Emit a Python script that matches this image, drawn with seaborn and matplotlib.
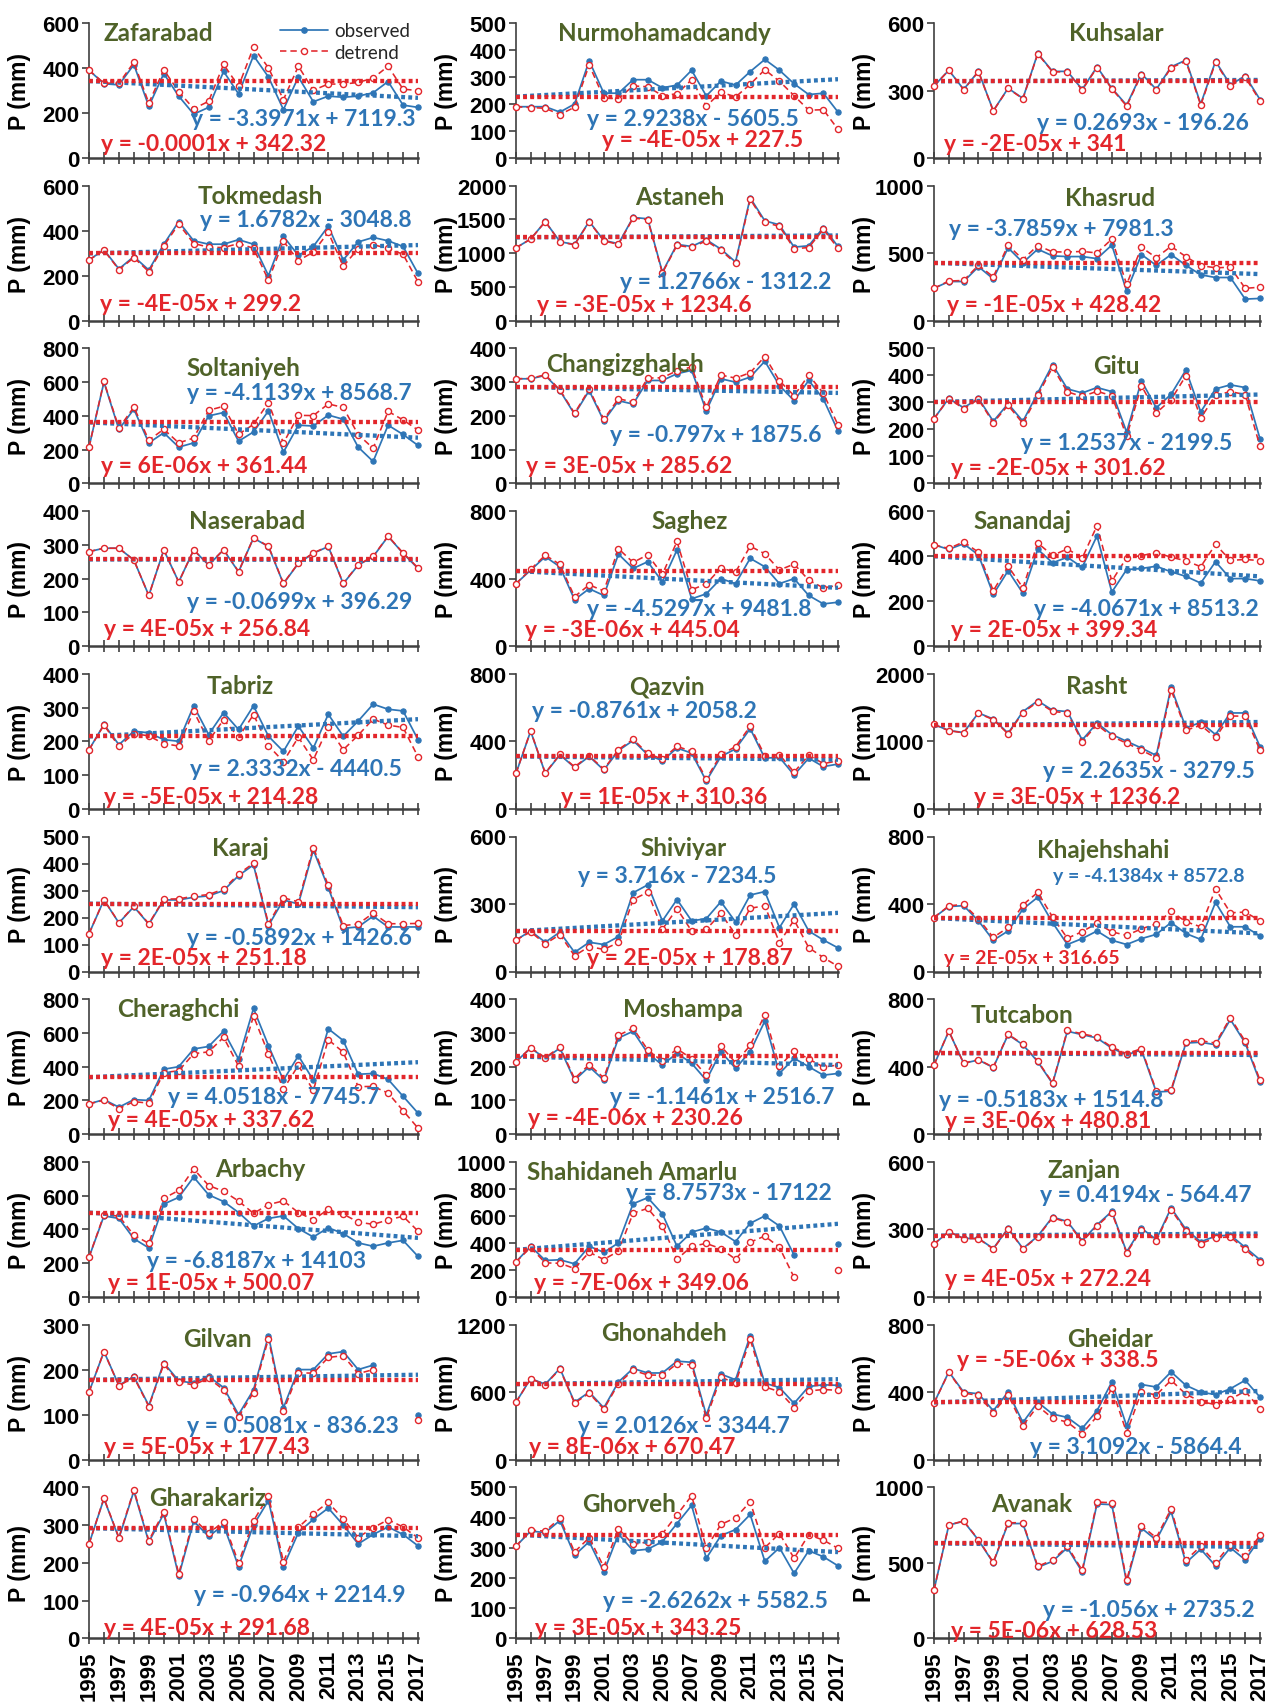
import numpy as np
import pandas as pd
import matplotlib
matplotlib.use('Agg')
import matplotlib.pyplot as plt
import seaborn as sns
from matplotlib.lines import Line2D

nan = np.nan
years = list(range(1995, 2018))

stations = ['Zafarabad', 'Nurmohamadcandy', 'Kuhsalar',
            'Tokmedash', 'Astaneh', 'Khasrud',
            'Soltaniyeh', 'Changizghaleh', 'Gitu',
            'Naserabad', 'Saghez', 'Sanandaj',
            'Tabriz', 'Qazvin', 'Rasht',
            'Karaj', 'Shiviyar', 'Khajehshahi',
            'Cheraghchi', 'Moshampa', 'Tutcabon',
            'Arbachy', 'Shahidaneh Amarlu', 'Zanjan',
            'Gilvan', 'Ghonahdeh', 'Gheidar',
            'Gharakariz', 'Ghorveh', 'Avanak']

# observed (obs) and detrended (det) precipitation, mm, 1995-2017
zafarabad_obs = [390, 330, 325, 415, 230, 375, 275, 195, 225, 385, 285, 455, 360, 215, 360, 250, 275, 270, 275, 290, 340, 235, 225]
zafarabad_det = [390, 333, 332, 425, 244, 392, 295, 219, 252, 416, 319, 492, 401, 259, 408, 301, 329, 328, 336, 355, 408, 306, 300]
nurmohamadcandy_obs = [190, 190, 190, 170, 200, 360, 240, 240, 290, 290, 260, 270, 325, 230, 285, 270, 320, 365, 325, 275, 235, 240, 170]
nurmohamadcandy_det = [190, 187, 184, 161, 188, 345, 222, 220, 267, 264, 231, 238, 290, 192, 244, 226, 273, 327, 284, 231, 177, 179, 106]
kuhsalar_obs = [320, 390, 305, 385, 210, 310, 265, 465, 385, 385, 305, 405, 310, 235, 375, 305, 405, 435, 240, 430, 325, 365, 260]
kuhsalar_det = [320, 390, 304, 384, 209, 309, 263, 463, 383, 383, 302, 402, 307, 231, 371, 301, 401, 430, 235, 425, 320, 359, 254]
tokmedash_obs = [270, 315, 230, 285, 225, 340, 440, 355, 340, 340, 360, 340, 200, 375, 290, 330, 420, 270, 350, 370, 355, 330, 210]
tokmedash_det = [270, 313, 227, 280, 218, 332, 430, 343, 327, 325, 343, 322, 180, 353, 267, 305, 393, 242, 320, 338, 321, 295, 173]
astaneh_obs = [1080, 1210, 1470, 1170, 1130, 1470, 1190, 1140, 1530, 1510, 720, 1130, 1100, 1200, 1060, 870, 1820, 1480, 1420, 1090, 1110, 1380, 1100]
astaneh_det = [1080, 1209, 1467, 1166, 1125, 1464, 1182, 1131, 1520, 1499, 707, 1116, 1085, 1183, 1042, 851, 1800, 1458, 1397, 1066, 1084, 1353, 1072]
khasrud_obs = [240, 290, 290, 400, 310, 540, 430, 530, 480, 475, 475, 460, 560, 220, 490, 410, 490, 410, 340, 320, 320, 160, 165]
khasrud_det = [240, 294, 298, 411, 325, 559, 453, 557, 510, 509, 513, 502, 605, 269, 543, 467, 551, 474, 408, 392, 396, 240, 248]
soltaniyeh_obs = [215, 600, 320, 440, 240, 300, 215, 240, 400, 420, 250, 305, 430, 185, 345, 340, 405, 380, 215, 130, 345, 290, 225]
soltaniyeh_det = [215, 604, 328, 452, 256, 321, 240, 269, 433, 457, 291, 350, 479, 239, 403, 402, 471, 450, 289, 208, 427, 376, 316]
changizghaleh_obs = [310, 310, 320, 275, 205, 275, 185, 245, 235, 305, 305, 325, 335, 215, 310, 300, 315, 362, 290, 245, 305, 250, 155]
changizghaleh_det = [310, 311, 322, 277, 208, 279, 190, 251, 241, 312, 313, 334, 345, 225, 321, 312, 328, 376, 304, 260, 321, 267, 173]
gitu_obs = [240, 315, 280, 315, 230, 295, 230, 335, 440, 350, 335, 355, 340, 190, 380, 280, 330, 420, 265, 350, 365, 355, 165]
gitu_det = [240, 314, 277, 311, 225, 289, 222, 326, 430, 339, 322, 341, 325, 174, 362, 261, 310, 399, 242, 326, 340, 329, 137]
naserabad_obs = [280, 290, 290, 255, 150, 285, 190, 285, 240, 285, 220, 320, 295, 185, 245, 275, 295, 185, 240, 265, 325, 275, 230]
naserabad_det = [280, 290, 290, 255, 150, 285, 190, 285, 241, 286, 221, 321, 296, 186, 246, 276, 296, 186, 241, 266, 326, 276, 232]
saghez_obs = [370, 450, 530, 470, 275, 340, 300, 545, 460, 500, 380, 570, 280, 310, 400, 370, 520, 470, 370, 400, 300, 250, 260]
saghez_det = [370, 455, 539, 484, 293, 363, 327, 577, 496, 541, 425, 620, 334, 369, 463, 438, 592, 547, 451, 486, 391, 345, 360]
sanandaj_obs = [450, 430, 455, 405, 230, 335, 235, 430, 370, 395, 350, 490, 240, 340, 345, 355, 330, 310, 280, 375, 300, 300, 290]
sanandaj_det = [450, 434, 463, 417, 246, 355, 259, 458, 403, 432, 391, 535, 289, 393, 402, 416, 395, 379, 353, 452, 381, 385, 380]
tabriz_obs = [175, 250, 190, 230, 225, 205, 200, 305, 220, 285, 235, 305, 215, 170, 245, 180, 280, 215, 260, 310, 295, 290, 205]
tabriz_det = [175, 248, 185, 223, 216, 193, 186, 289, 201, 264, 212, 279, 187, 140, 212, 145, 243, 175, 218, 266, 248, 241, 154]
qazvin_obs = [210, 460, 210, 320, 245, 310, 230, 345, 405, 320, 285, 360, 330, 165, 310, 355, 475, 300, 305, 200, 300, 250, 265]
qazvin_det = [210, 461, 212, 323, 249, 314, 235, 351, 412, 328, 294, 370, 341, 176, 322, 368, 489, 315, 321, 217, 318, 268, 284]
rasht_obs = [1250, 1160, 1130, 1420, 1330, 1120, 1440, 1600, 1460, 1440, 1020, 1270, 1100, 1000, 900, 790, 1800, 1200, 1280, 1100, 1420, 1420, 920]
rasht_det = [1250, 1158, 1125, 1413, 1321, 1109, 1426, 1584, 1442, 1420, 997, 1245, 1073, 971, 868, 756, 1764, 1162, 1239, 1057, 1375, 1372, 870]
karaj_obs = [140, 265, 180, 240, 175, 265, 265, 275, 280, 300, 355, 395, 170, 265, 250, 450, 310, 160, 165, 205, 165, 165, 165]
karaj_det = [140, 266, 181, 242, 177, 268, 269, 279, 285, 305, 361, 401, 177, 273, 258, 459, 319, 170, 176, 216, 177, 177, 178]
shiviyar_obs = [140, 180, 130, 175, 85, 130, 120, 155, 350, 385, 225, 320, 225, 235, 310, 220, 340, 355, 195, 300, 180, 140, 105]
shiviyar_det = [140, 176, 123, 164, 70, 111, 98, 129, 320, 352, 188, 279, 180, 187, 258, 164, 281, 292, 128, 229, 106, 62, 23]
khajehshahi_obs = [320, 385, 390, 300, 185, 240, 370, 440, 290, 160, 195, 240, 185, 160, 195, 220, 290, 225, 190, 410, 265, 265, 210]
khajehshahi_det = [320, 389, 398, 312, 202, 261, 395, 469, 323, 197, 236, 286, 235, 214, 253, 282, 356, 295, 265, 489, 348, 352, 301]
cheraghchi_obs = [180, 205, 160, 205, 200, 385, 400, 505, 520, 610, 445, 745, 525, 320, 465, 320, 625, 555, 355, 360, 325, 225, 125]
cheraghchi_det = [180, 201, 152, 193, 184, 365, 376, 477, 488, 574, 404, 700, 476, 267, 408, 259, 560, 486, 282, 283, 244, 140, 36]
moshampa_obs = [215, 255, 225, 255, 160, 200, 160, 285, 305, 240, 205, 240, 210, 160, 245, 195, 245, 335, 180, 225, 200, 175, 180]
moshampa_det = [215, 256, 227, 258, 165, 206, 167, 293, 314, 250, 216, 253, 224, 175, 261, 212, 263, 354, 201, 247, 223, 199, 205]
tutcabon_obs = [410, 610, 420, 440, 395, 590, 530, 430, 300, 610, 590, 570, 510, 470, 500, 250, 255, 540, 545, 530, 680, 540, 310]
tutcabon_det = [410, 611, 421, 442, 397, 593, 533, 434, 304, 615, 595, 576, 516, 477, 507, 258, 263, 549, 554, 540, 690, 551, 321]
arbachy_obs = [235, 480, 465, 345, 290, 550, 590, 710, 605, 565, 500, 420, 465, 480, 405, 355, 410, 375, 320, 300, 320, 335, 240]
arbachy_det = [235, 487, 479, 366, 317, 584, 631, 758, 660, 626, 568, 495, 547, 569, 500, 457, 519, 491, 443, 430, 456, 478, 390]
shahidaneh_obs = [260, 375, 270, 275, 245, 375, 330, 400, 690, 735, 615, 375, 480, 510, 480, 410, 545, 600, 525, 310, nan, nan, 390]
shahidaneh_det = [260, 366, 252, 249, 210, 331, 277, 339, 620, 656, 527, 279, 375, 396, 357, 279, 405, 451, 367, 144, nan, nan, 197]
zanjan_obs = [235, 290, 260, 260, 215, 305, 215, 270, 355, 335, 250, 320, 380, 200, 305, 255, 395, 300, 245, 270, 275, 220, 165]
zanjan_det = [235, 290, 259, 259, 213, 303, 213, 267, 352, 331, 246, 315, 375, 195, 299, 249, 388, 293, 237, 262, 267, 211, 156]
gilvan_obs = [150, 240, 165, 185, 120, 215, 175, 170, 185, 160, 100, 155, 275, 115, 200, 200, 235, 240, 200, 210, nan, nan, 100]
gilvan_det = [150, 240, 164, 183, 118, 212, 172, 166, 181, 155, 95, 149, 269, 108, 193, 192, 227, 231, 191, 200, nan, nan, 89]
ghonahdeh_obs = [510, 720, 670, 810, 510, 600, 460, 690, 810, 770, 770, 875, 865, 395, 760, 710, 1100, 680, 640, 500, 650, 665, 660]
ghonahdeh_det = [510, 718, 666, 804, 502, 590, 448, 676, 794, 752, 750, 853, 841, 369, 732, 680, 1068, 646, 604, 462, 610, 623, 616]
gheidar_obs = [335, 520, 400, 390, 290, 400, 220, 340, 270, 250, 185, 290, 460, 200, 445, 430, 520, 440, 400, 385, 420, 470, 370]
gheidar_det = [335, 517, 394, 381, 278, 384, 201, 318, 245, 222, 154, 256, 423, 160, 401, 383, 470, 387, 344, 326, 358, 405, 302]
gharakariz_obs = [250, 370, 265, 390, 255, 330, 165, 310, 270, 300, 190, 300, 365, 190, 280, 315, 345, 300, 250, 275, 295, 275, 245]
gharakariz_det = [250, 371, 267, 393, 259, 335, 171, 317, 278, 309, 200, 311, 377, 203, 294, 330, 360, 316, 267, 293, 314, 295, 266]
ghorveh_obs = [305, 355, 350, 390, 275, 320, 220, 345, 290, 295, 320, 380, 440, 265, 340, 360, 410, 255, 300, 215, 290, 270, 240]
ghorveh_det = [305, 358, 355, 398, 286, 333, 236, 363, 311, 319, 346, 409, 472, 299, 377, 399, 452, 300, 347, 265, 343, 325, 298]
avanak_obs = [320, 750, 775, 650, 500, 760, 760, 470, 510, 600, 440, 890, 885, 370, 730, 650, 840, 500, 590, 480, 600, 520, 660]
avanak_det = [320, 751, 777, 653, 504, 765, 766, 477, 518, 610, 451, 902, 898, 384, 745, 666, 857, 518, 609, 500, 621, 542, 683]

obs_series = [zafarabad_obs, nurmohamadcandy_obs, kuhsalar_obs, tokmedash_obs, astaneh_obs, khasrud_obs,
              soltaniyeh_obs, changizghaleh_obs, gitu_obs, naserabad_obs, saghez_obs, sanandaj_obs,
              tabriz_obs, qazvin_obs, rasht_obs, karaj_obs, shiviyar_obs, khajehshahi_obs,
              cheraghchi_obs, moshampa_obs, tutcabon_obs, arbachy_obs, shahidaneh_obs, zanjan_obs,
              gilvan_obs, ghonahdeh_obs, gheidar_obs, gharakariz_obs, ghorveh_obs, avanak_obs]
det_series = [zafarabad_det, nurmohamadcandy_det, kuhsalar_det, tokmedash_det, astaneh_det, khasrud_det,
              soltaniyeh_det, changizghaleh_det, gitu_det, naserabad_det, saghez_det, sanandaj_det,
              tabriz_det, qazvin_det, rasht_det, karaj_det, shiviyar_det, khajehshahi_det,
              cheraghchi_det, moshampa_det, tutcabon_det, arbachy_det, shahidaneh_det, zanjan_det,
              gilvan_det, ghonahdeh_det, gheidar_det, gharakariz_det, ghorveh_det, avanak_det]

# linear trend of observed series and level of detrended series
blue_slope = [-3.3971, 2.9238, 0.2693, 1.6782, 1.2766, -3.7859, -4.1139, -0.797, 1.2537, -0.0699,
              -4.5297, -4.0671, 2.3332, -0.8761, 2.2635, -0.5892, 3.716, -4.1384, 4.0518, -1.1461,
              -0.5183, -6.8187, 8.7573, 0.4194, 0.5081, 2.0126, 3.1092, -0.964, -2.6262, -1.056]
blue_icpt = [7119.3, -5605.5, -196.26, -3048.8, -1312.2, 7981.3, 8568.7, 1875.6, -2199.5, 396.29,
             9481.8, 8513.2, -4440.5, 2058.2, -3279.5, 1426.6, -7234.5, 8572.8, -7745.7, 2516.7,
             1514.8, 14103, -17122, -564.47, -836.23, -3344.7, -5864.4, 2214.9, 5582.5, 2735.2]
red_level = [342.32, 227.5, 341, 299.2, 1234.6, 428.42, 361.44, 285.62, 301.62, 256.84,
             445.04, 399.34, 214.28, 310.36, 1236.2, 251.18, 178.87, 316.65, 337.62, 230.26,
             480.81, 500.07, 349.06, 272.24, 177.43, 670.47, 338.5, 291.68, 343.25, 628.53]
blue_eq = ['y = -3.3971x + 7119.3', 'y = 2.9238x - 5605.5', 'y = 0.2693x - 196.26',
           'y = 1.6782x - 3048.8', 'y = 1.2766x - 1312.2', 'y = -3.7859x + 7981.3',
           'y = -4.1139x + 8568.7', 'y = -0.797x + 1875.6', 'y = 1.2537x - 2199.5',
           'y = -0.0699x + 396.29', 'y = -4.5297x + 9481.8', 'y = -4.0671x + 8513.2',
           'y = 2.3332x - 4440.5', 'y = -0.8761x + 2058.2', 'y = 2.2635x - 3279.5',
           'y = -0.5892x + 1426.6', 'y = 3.716x - 7234.5', 'y = -4.1384x + 8572.8',
           'y = 4.0518x - 7745.7', 'y = -1.1461x + 2516.7', 'y = -0.5183x + 1514.8',
           'y = -6.8187x + 14103', 'y = 8.7573x - 17122', 'y = 0.4194x - 564.47',
           'y = 0.5081x - 836.23', 'y = 2.0126x - 3344.7', 'y = 3.1092x - 5864.4',
           'y = -0.964x + 2214.9', 'y = -2.6262x + 5582.5', 'y = -1.056x + 2735.2']
red_eq = ['y = -0.0001x + 342.32', 'y = -4E-05x + 227.5', 'y = -2E-05x + 341',
          'y = -4E-05x + 299.2', 'y = -3E-05x + 1234.6', 'y = -1E-05x + 428.42',
          'y = 6E-06x + 361.44', 'y = 3E-05x + 285.62', 'y = -2E-05x + 301.62',
          'y = 4E-05x + 256.84', 'y = -3E-06x + 445.04', 'y = 2E-05x + 399.34',
          'y = -5E-05x + 214.28', 'y = 1E-05x + 310.36', 'y = 3E-05x + 1236.2',
          'y = 2E-05x + 251.18', 'y = 2E-05x + 178.87', 'y = 2E-05x + 316.65',
          'y = 4E-05x + 337.62', 'y = -4E-06x + 230.26', 'y = 3E-06x + 480.81',
          'y = 1E-05x + 500.07', 'y = -7E-06x + 349.06', 'y = 4E-05x + 272.24',
          'y = 5E-05x + 177.43', 'y = 8E-06x + 670.47', 'y = -5E-06x + 338.5',
          'y = 4E-05x + 291.68', 'y = 3E-05x + 343.25', 'y = 5E-06x + 628.53']
y_max = [600, 500, 600, 600, 2000, 1000, 800, 400, 500, 400, 800, 600, 400, 800, 2000,
         500, 600, 800, 800, 400, 800, 800, 1000, 600, 300, 1200, 800, 400, 500, 1000]
y_step = [200, 100, 300, 200, 500, 500, 200, 100, 100, 100, 400, 200, 100, 400, 1000,
          100, 300, 400, 200, 100, 400, 200, 200, 300, 100, 600, 400, 100, 100, 500]

# text placement (axes fraction, centre of text)
title_pos = [(0.21, 0.93), (0.46, 0.93), (0.56, 0.93), (0.52, 0.93), (0.51, 0.92), (0.54, 0.91),
             (0.47, 0.86), (0.34, 0.89), (0.56, 0.87), (0.48, 0.93), (0.54, 0.93), (0.27, 0.93),
             (0.46, 0.91), (0.47, 0.91), (0.50, 0.91), (0.46, 0.92), (0.52, 0.92), (0.52, 0.90),
             (0.27, 0.93), (0.52, 0.93), (0.27, 0.89), (0.52, 0.95), (0.36, 0.93), (0.46, 0.94),
             (0.39, 0.90), (0.46, 0.94), (0.54, 0.90), (0.36, 0.93), (0.35, 0.89), (0.30, 0.89)]
blue_pos = [(0.65, 0.29), (0.55, 0.29), (0.64, 0.26), (0.66, 0.75), (0.65, 0.29), (0.39, 0.68),
            (0.64, 0.67), (0.62, 0.36), (0.59, 0.30), (0.64, 0.33), (0.57, 0.28), (0.65, 0.28),
            (0.63, 0.30), (0.40, 0.73), (0.66, 0.28), (0.64, 0.255), (0.50, 0.71), (0.66, 0.71),
            (0.56, 0.28), (0.64, 0.28), (0.36, 0.26), (0.51, 0.27), (0.66, 0.77), (0.65, 0.76),
            (0.62, 0.25), (0.52, 0.25), (0.62, 0.10), (0.64, 0.29), (0.62, 0.25), (0.66, 0.19)]
red_pos = [(0.38, 0.11), (0.58, 0.14), (0.31, 0.11), (0.34, 0.13), (0.40, 0.12), (0.37, 0.12),
           (0.35, 0.135), (0.35, 0.135), (0.38, 0.12), (0.36, 0.13), (0.36, 0.12), (0.37, 0.12),
           (0.37, 0.09), (0.46, 0.09), (0.44, 0.09), (0.35, 0.105), (0.54, 0.105), (0.30, 0.105),
           (0.37, 0.11), (0.37, 0.125), (0.35, 0.10), (0.37, 0.105), (0.39, 0.105), (0.35, 0.135),
           (0.36, 0.10), (0.36, 0.10), (0.38, 0.74), (0.36, 0.07), (0.38, 0.07), (0.37, 0.05)]
eq_scale = [1.0] * 17 + [0.85] + [1.0] * 12

BLUE = '#2E75B6'
RED = '#E3262B'
OLIVE = '#4F6228'
AXIS = '#404040'

sns.set_theme(style='white')
plt.rcParams['font.family'] = ['Liberation Sans', 'DejaVu Sans']
TXT = ['Lato', 'DejaVu Sans']
TICK_FS, YLAB_FS, EQ_FS, TITLE_FS = 16, 16.5, 16.5, 17.5


def draw_series(ax, df, col, **kw):
    # draw contiguous runs so that missing years leave a gap
    valid = df[col].notna()
    run_id = (valid != valid.shift()).cumsum()
    for _, part in df[valid].groupby(run_id[valid]):
        sns.lineplot(data=part, x='year', y=col, ax=ax, errorbar=None,
                     legend=False, clip_on=False, **kw)


W, H = 1269, 1706
fig = plt.figure(figsize=(W / 100, H / 100), dpi=100)
col_left = [89, 516, 934]
col_right = [418, 838, 1260]
row_top = [24 + 162.7 * r for r in range(10)]

for k, name in enumerate(stations):
    r, c = divmod(k, 3)
    h = 151 if r == 9 else 135
    ax = fig.add_axes([col_left[c] / W, 1 - (row_top[r] + h) / H,
                       (col_right[c] - col_left[c]) / W, h / H])
    df = pd.DataFrame({'year': years, 'observed': obs_series[k], 'detrend': det_series[k]})

    draw_series(ax, df, 'observed', color=BLUE, linewidth=1.25, marker='o', markersize=3.8,
                markerfacecolor=BLUE, markeredgecolor=BLUE, markeredgewidth=0.8, zorder=3)
    draw_series(ax, df, 'detrend', color=RED, linewidth=1.15, linestyle=(0, (4, 2.5)),
                marker='o', markersize=4.4, markerfacecolor='white', markeredgecolor=RED,
                markeredgewidth=1.0, zorder=4)

    yrs = np.array(years, dtype=float)
    ax.plot(yrs, blue_slope[k] * yrs + blue_icpt[k], color=BLUE, linewidth=3.1,
            linestyle=(0, (0.9, 0.75)), zorder=5)
    ax.plot(yrs, np.full_like(yrs, red_level[k]), color=RED, linewidth=3.1,
            linestyle=(0, (0.9, 0.75)), zorder=6)

    ax.set_xlim(1995, 2017)
    ax.set_ylim(0, y_max[k])
    ax.set_yticks(np.arange(0, y_max[k] + 1, y_step[k]))
    ax.set_xticks(years)
    if r == 9:
        ax.set_xticklabels([str(y) if y % 2 == 1 else '' for y in years], rotation=90)
    else:
        ax.set_xticklabels([])
    for side in ['top', 'right']:
        ax.spines[side].set_visible(False)
    ax.spines['left'].set_color(AXIS)
    ax.spines['left'].set_linewidth(1.2)
    ax.spines['bottom'].set_color(AXIS)
    ax.spines['bottom'].set_linewidth(1.8)
    ax.tick_params(axis='x', direction='inout', length=9, width=1.2, color=AXIS,
                   labelsize=TICK_FS, labelcolor='black', pad=4, bottom=True)
    ax.tick_params(axis='y', direction='out', length=5, width=1.2, color=AXIS,
                   labelsize=TICK_FS, labelcolor='black', pad=2, left=True)
    for lbl in ax.get_xticklabels() + ax.get_yticklabels():
        lbl.set_fontweight('bold')
    ax.grid(False)
    ax.set_xlabel('')
    ax.set_ylabel('P (mm)', fontsize=YLAB_FS, fontweight='bold', color='black')
    ax.yaxis.set_label_coords(-58 / (col_right[c] - col_left[c]), 0.5)

    tx, ty = title_pos[k]
    ax.text(tx, ty, name, transform=ax.transAxes, ha='center', va='center',
            color=OLIVE, fontsize=TITLE_FS, fontweight='bold', family=TXT, zorder=8)
    bx, by = blue_pos[k]
    ax.text(bx, by, blue_eq[k], transform=ax.transAxes, ha='center', va='center',
            color=BLUE, fontsize=EQ_FS * eq_scale[k], fontweight='bold', family=TXT, zorder=8)
    rx, ry = red_pos[k]
    ax.text(rx, ry, red_eq[k], transform=ax.transAxes, ha='center', va='center',
            color=RED, fontsize=EQ_FS * eq_scale[k], fontweight='bold', family=TXT, zorder=8)

    if k == 0:
        handles = [Line2D([], [], color=BLUE, lw=1.25, marker='o', ms=3.8,
                          mfc=BLUE, mec=BLUE),
                   Line2D([], [], color=RED, lw=1.15, ls=(0, (4, 2.5)), marker='o', ms=4.4,
                          mfc='white', mec=RED)]
        ax.legend(handles, ['observed', 'detrend'], loc='upper right',
                  bbox_to_anchor=(1.01, 1.09), frameon=False,
                  prop={'family': TXT, 'size': 13.5}, handlelength=2.6,
                  labelspacing=0.25, borderpad=0.1, handletextpad=0.3)

fig.savefig('out.png', dpi=100)
